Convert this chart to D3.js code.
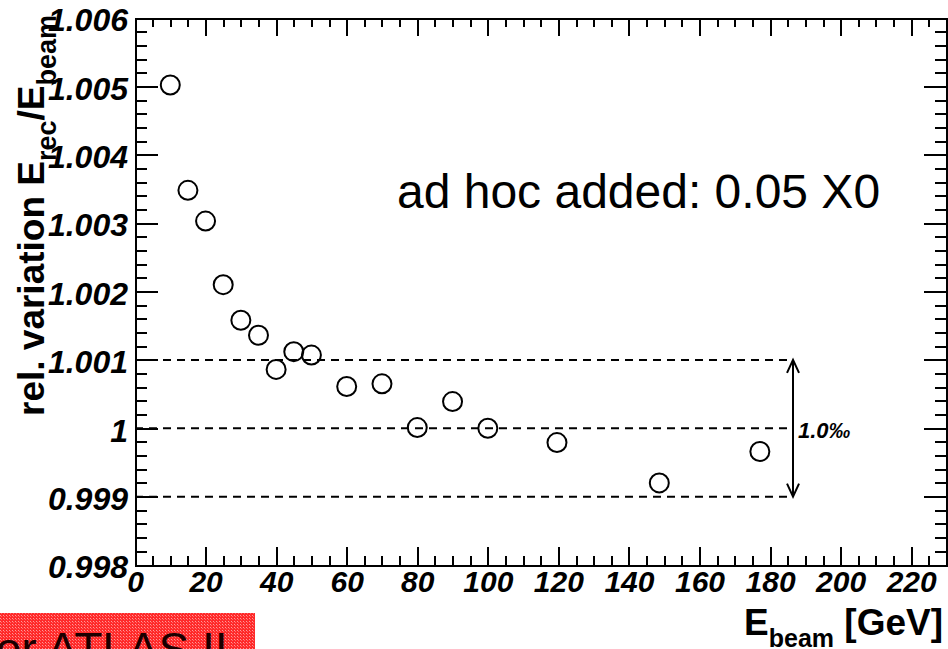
<!DOCTYPE html>
<html>
<head>
<meta charset="utf-8">
<script src="https://cdn.jsdelivr.net/npm/d3@7"></script>
<style>
  body { margin: 0; background: #fff; }
  svg { display: block; }
  .ax path, .ax line { stroke: #000; stroke-width: 2px; shape-rendering: crispEdges; }
  .ax text { font-family: "Liberation Sans", Arial, Helvetica, sans-serif; font-weight: bold; font-style: italic; fill: #000; }
</style>
</head>
<body>
<svg id="chart" width="948" height="649"></svg>
<script>
// beam energies [GeV] and relative variation E_rec/E_beam
var energies = [10, 15, 20, 25, 30, 35, 40, 45, 50, 60, 70, 80, 90, 100, 119.6, 148.6, 177.1];
var ratios = [1.00502, 1.00348, 1.00303, 1.00210, 1.00158, 1.00136, 1.00086, 1.00112, 1.00107,
              1.00061, 1.00065, 1.00001, 1.00039, 1.00000, 0.99979, 0.99920, 0.99966];

var xTicks = [0, 20, 40, 60, 80, 100, 120, 140, 160, 180, 200, 220];
var yTicks = [0.998, 0.999, 1, 1.001, 1.002, 1.003, 1.004, 1.005, 1.006];
var bandLines = [0.999, 1, 1.001];
var bandLabel = "1.0\u2030";
var arrowAt = 186.5;
var noteText = "ad hoc added: 0.05 X0";
var bannerText = "for ATLAS II";

var svg = d3.select("#chart");
var fontFam = '"Liberation Sans", Arial, Helvetica, sans-serif';

var x = d3.scaleLinear().domain([0, 230]).range([135, 946.5]);
var y = d3.scaleLinear().domain([0.998, 1.006]).range([565, 18]);

var xMinor = d3.range(0, 231, 5).filter(function(v) { return v % 20 != 0; });
var yMinor = d3.range(0, 41).map(function(i) { return 0.998 + i * 0.0002; })
  .filter(function(v, i) { return i % 5 != 0; });

var fmtY = function(d) { return Math.abs(d - 1) < 1e-9 ? "1" : d3.format(".3f")(d); };

// bottom axis
svg.append("g").attr("class", "ax").attr("transform", "translate(0,565)")
  .call(d3.axisBottom(x).tickValues(xMinor).tickSize(-9).tickFormat(""));
var gx = svg.append("g").attr("class", "ax").attr("transform", "translate(0,565)")
  .call(d3.axisBottom(x).tickValues(xTicks).tickSizeInner(-18).tickSizeOuter(0).tickPadding(6).tickFormat(d3.format("d")));
gx.selectAll("text").attr("font-size", 30);

// top axis
svg.append("g").attr("class", "ax").attr("transform", "translate(0,18)")
  .call(d3.axisTop(x).tickValues(xMinor).tickSize(-9).tickFormat(""));
svg.append("g").attr("class", "ax").attr("transform", "translate(0,18)")
  .call(d3.axisTop(x).tickValues(xTicks).tickSizeInner(-18).tickSizeOuter(0).tickFormat(""));

// left axis
svg.append("g").attr("class", "ax").attr("transform", "translate(135,0)")
  .call(d3.axisLeft(y).tickValues(yMinor).tickSize(-12).tickFormat(""));
var gy = svg.append("g").attr("class", "ax").attr("transform", "translate(135,0)")
  .call(d3.axisLeft(y).tickValues(yTicks).tickSizeInner(-23).tickSizeOuter(0).tickPadding(7).tickFormat(fmtY));
gy.selectAll("text").attr("font-size", 32).attr("dy", "0.4em");

// right axis
svg.append("g").attr("class", "ax").attr("transform", "translate(946.5,0)")
  .call(d3.axisRight(y).tickValues(yMinor).tickSize(-12).tickFormat(""));
svg.append("g").attr("class", "ax").attr("transform", "translate(946.5,0)")
  .call(d3.axisRight(y).tickValues(yTicks).tickSizeInner(-23).tickSizeOuter(0).tickFormat(""));

// dashed band lines
svg.selectAll("line.band").data(bandLines).enter().append("line")
  .attr("class", "band")
  .attr("x1", x(0)).attr("x2", x(arrowAt))
  .attr("y1", function(d) { return y(d); }).attr("y2", function(d) { return y(d); })
  .style("stroke", "#000").style("stroke-width", 2).style("stroke-dasharray", "8,6");

// double arrow
var ax = x(arrowAt), yTop = y(d3.max(bandLines)), yBot = y(d3.min(bandLines));
svg.append("line").attr("x1", ax).attr("x2", ax).attr("y1", yTop).attr("y2", yBot)
  .style("stroke", "#000").style("stroke-width", 2);
svg.append("path").attr("d", "M" + (ax - 6) + "," + (yTop + 13) + "L" + ax + "," + yTop + "L" + (ax + 6) + "," + (yTop + 13))
  .style("fill", "none").style("stroke", "#000").style("stroke-width", 2);
svg.append("path").attr("d", "M" + (ax - 6) + "," + (yBot - 13) + "L" + ax + "," + yBot + "L" + (ax + 6) + "," + (yBot - 13))
  .style("fill", "none").style("stroke", "#000").style("stroke-width", 2);
svg.append("text").attr("x", ax + 5).attr("y", y(1) + 10)
  .attr("font-family", fontFam).attr("font-weight", "bold").attr("font-style", "italic")
  .attr("font-size", 22).text(bandLabel);

// data points
svg.selectAll("circle.pt").data(energies).enter().append("circle")
  .attr("class", "pt")
  .attr("cx", function(d) { return x(d); })
  .attr("cy", function(d, i) { return y(ratios[i]); })
  .attr("r", 9.5)
  .style("fill", "none").style("stroke", "#000").style("stroke-width", 2);

// note text
svg.append("text").attr("x", 397).attr("y", 208)
  .attr("font-family", fontFam).attr("font-size", 48).text(noteText);

// y title
var yt = svg.append("text").attr("transform", "translate(44,416) rotate(-90)")
  .attr("font-family", fontFam).attr("font-weight", "bold").attr("font-size", 37);
yt.append("tspan").text("rel. variation E");
yt.append("tspan").attr("font-size", 27).attr("dy", 12).text("rec");
yt.append("tspan").attr("dy", -12).text("/E");
yt.append("tspan").attr("font-size", 27).attr("dy", 12).text("beam");

// x title
var xt = svg.append("text").attr("x", 943).attr("y", 635).attr("text-anchor", "end")
  .attr("font-family", fontFam).attr("font-weight", "bold").attr("font-size", 37);
xt.append("tspan").text("E");
xt.append("tspan").attr("font-size", 25).attr("dy", 12).text("beam");
xt.append("tspan").attr("dy", -12).text(" [GeV]");

// red banner bottom left
var defs = svg.append("defs");
var pat = defs.append("pattern").attr("id", "mesh").attr("width", 3).attr("height", 3)
  .attr("patternUnits", "userSpaceOnUse");
pat.append("rect").attr("width", 3).attr("height", 3).attr("fill", "#ff2a2a");
pat.append("rect").attr("width", 1).attr("height", 1).attr("fill", "#ff9a9a");
pat.append("rect").attr("x", 1).attr("y", 1).attr("width", 1).attr("height", 1).attr("fill", "#ff6a6a");
svg.append("rect").attr("x", 0).attr("y", 613).attr("width", 255).attr("height", 36).attr("fill", "url(#mesh)");
svg.append("text").attr("x", -17).attr("y", 665)
  .attr("font-family", fontFam).attr("font-size", 46).attr("fill", "#1a0000").text(bannerText);
</script>
</body>
</html>
